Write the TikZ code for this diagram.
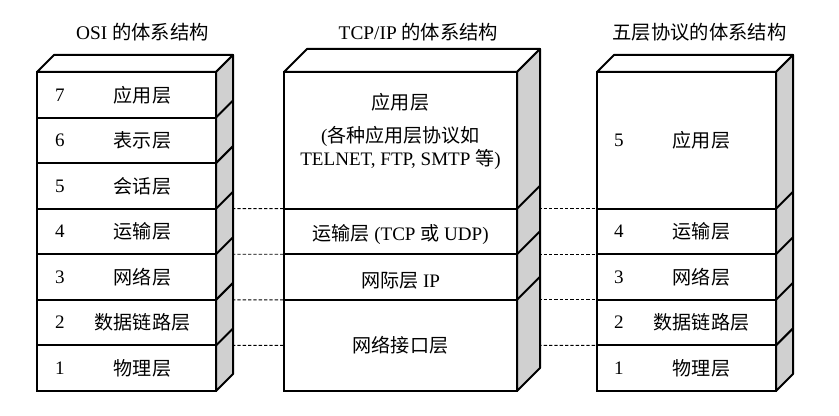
\documentclass[tikz,border=0pt]{standalone}
\usepackage{fontspec}
\setmainfont{Liberation Serif}
\newfontfamily\zhfont{Noto Sans CJK SC}
\newcommand{\zh}[1]{{\zhfont #1}}
\usetikzlibrary{positioning,calc}
\pgfdeclarelayer{background}
\pgfsetlayers{background,main}
\definecolor{sidegray}{RGB}{208,208,208}

\begin{document}
\begin{tikzpicture}[
  x=0.75pt,y=-0.75pt,
  every node/.style={font=\fontsize{14.3}{17}\selectfont},
  layer/.style={draw,line width=1.5pt,fill=white,outer sep=0pt,inner sep=0pt,
    minimum height=34.18pt},
  osibox/.style={layer,minimum width=134.25pt},
  tcpbox/.style={layer,minimum width=174.75pt},
  fivbox/.style={layer,minimum width=134.25pt},
  side/.style={draw,line width=1.5pt,fill=sidegray,line join=round},
  topface/.style={draw,line width=1.5pt,fill=white,line join=round},
  edge/.style={line width=1.5pt},
  link/.style={line width=0.7pt,dash pattern=on 2.5pt off 1.5pt},
  layername/.style={font=\zhfont\fontsize{14.3}{17}\selectfont},
  title/.style={font=\fontsize{14.5}{17}\selectfont}
]
\useasboundingbox (0,0) rectangle (839,416);

% OSI
\node[osibox,anchor=north west] (osi7) at (37,72) {};
\node[osibox,below=0pt of osi7] (osi6) {};
\node[osibox,below=0pt of osi6] (osi5) {};
\node[osibox,below=0pt of osi5] (osi4) {};
\node[osibox,below=0pt of osi4] (osi3) {};
\node[osibox,below=0pt of osi3] (osi2) {};
\node[osibox,below=0pt of osi2] (osi1) {};
\path[topface] (osi7.north west) -- ++(17,-17) -- ($(osi7.north east)+(17,-17)$)
  -- (osi7.north east) -- cycle;
\path[side] (osi7.north east) -- ++(17,-17) -- ($(osi1.south east)+(17,-17)$)
  -- (osi1.south east) -- cycle;
\foreach \i in {7,...,2}
  \draw[edge] (osi\i.south east) -- ++(17,-17);
\foreach \n/\t in {7/应用层,6/表示层,5/会话层,4/运输层,3/网络层,2/数据链路层,1/物理层} {
  \node (osinum\n) at ($(osi\n.west)+(23,0)$) {\n};
  \node[layername] (osiname\n) at ($(osi\n.center)+(16,0)$) {\t};
}
\node[title] (osititle) at ($(osi7.north)+(16,-40)$) {OSI \zh{的体系结构}};

% TCP/IP
\node[tcpbox,anchor=north west,minimum height=102.5pt] (tcp4) at (284,72) {};
\node[tcpbox,below=0pt of tcp4] (tcp3) {};
\node[tcpbox,below=0pt of tcp3] (tcp2) {};
\node[tcpbox,below=0pt of tcp2,minimum height=68.35pt] (tcp1) {};
\path[topface] (tcp4.north west) -- ++(23,-23) -- ($(tcp4.north east)+(23,-23)$)
  -- (tcp4.north east) -- cycle;
\path[side] (tcp4.north east) -- ++(23,-23) -- ($(tcp1.south east)+(23,-23)$)
  -- (tcp1.south east) -- cycle;
\foreach \i in {4,3,2}
  \draw[edge] (tcp\i.south east) -- ++(23,-23);
\node[align=center] (tcpapp) at ($(tcp4.center)+(0,-9)$)
  {\zh{应用层}\\[8pt](\zh{各种应用层协议如}\\TELNET, FTP, SMTP \zh{等})};
\node (tcptrans) at ($(tcp3.center)+(0,3)$) {\zh{运输层} (TCP \zh{或} UDP)};
\node (tcpnet) at ($(tcp2.center)+(0,4)$) {\zh{网际层} IP};
\node[layername] (tcplink) at (tcp1.center) {网络接口层};
\node[title] (tcptitle) at ($(tcp4.north)+(18,-40)$) {TCP/IP \zh{的体系结构}};

% five layers
\node[fivbox,anchor=north west,minimum height=102.5pt] (fiv5) at (597,72) {};
\node[fivbox,below=0pt of fiv5] (fiv4) {};
\node[fivbox,below=0pt of fiv4] (fiv3) {};
\node[fivbox,below=0pt of fiv3] (fiv2) {};
\node[fivbox,below=0pt of fiv2] (fiv1) {};
\path[topface] (fiv5.north west) -- ++(17,-17) -- ($(fiv5.north east)+(17,-17)$)
  -- (fiv5.north east) -- cycle;
\path[side] (fiv5.north east) -- ++(17,-17) -- ($(fiv1.south east)+(17,-17)$)
  -- (fiv1.south east) -- cycle;
\foreach \i in {5,...,2}
  \draw[edge] (fiv\i.south east) -- ++(17,-17);
\foreach \n/\t in {5/应用层,4/运输层,3/网络层,2/数据链路层,1/物理层} {
  \node (fivnum\n) at ($(fiv\n.west)+(22,0)$) {\n};
  \node[layername] (fivname\n) at ($(fiv\n.center)+(15,0)$) {\t};
}
\node[title] (fivtitle) at ($(fiv5.north)+(13,-40)$) {\zh{五层协议的体系结构}};

% dashed links
\begin{pgfonlayer}{background}
\draw[link] (osi4.north east) -- (tcp3.north west);
\draw[link] (osi3.north east) -- (tcp2.north west);
\draw[link] (osi2.north east) -- (tcp1.north west);
\draw[link] (osi1.north east) -- (tcp1.west);
\draw[link] (tcp3.north east) -- (fiv4.north west);
\draw[link] (tcp2.north east) -- (fiv3.north west);
\draw[link] (tcp1.north east) -- (fiv2.north west);
\draw[link] (tcp1.east) -- (fiv1.north west);
\end{pgfonlayer}
\end{tikzpicture}
\end{document}
